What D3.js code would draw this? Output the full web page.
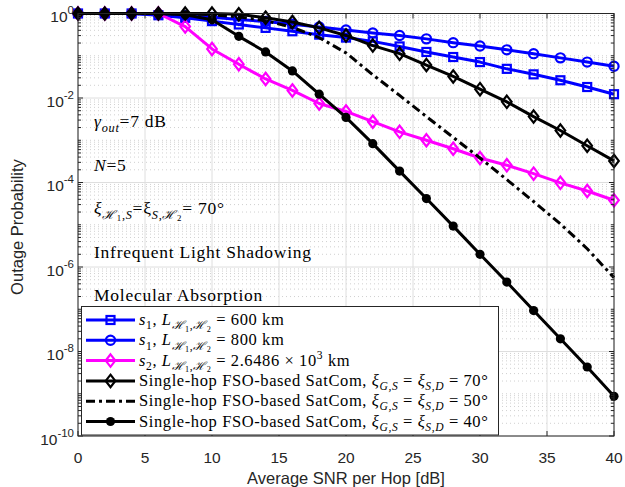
<!DOCTYPE html>
<html>
<head>
<meta charset="utf-8">
<script src="https://cdn.jsdelivr.net/npm/d3@7"></script>
<style>
  html, body { margin: 0; padding: 0; background: #fff; }
  svg { display: block; }
</style>
</head>
<body>
<svg id="chart" width="625" height="487"></svg>
<script>
// Average SNR per hop (dB) at which every curve is evaluated
const snrDb = [0, 2, 4, 6, 8, 10, 12, 14, 16, 18, 20, 22, 24, 26, 28, 30, 32, 34, 36, 38, 40];

// Outage probability for each scenario
const s1L600 = [1, 1, 1, 0.91, 0.79, 0.66, 0.55, 0.457, 0.38, 0.316, 0.269, 0.219, 0.166, 0.123, 0.0933, 0.0708, 0.049, 0.0363, 0.0263, 0.0182, 0.0123];
const s1L800 = [1, 1, 1, 0.955, 0.89, 0.81, 0.72, 0.645, 0.56, 0.479, 0.407, 0.347, 0.302, 0.251, 0.204, 0.17, 0.138, 0.112, 0.0891, 0.0708, 0.0562];
const s2L2648 = [1, 1, 1, 1, 0.49, 0.145, 0.0631, 0.0282, 0.0151, 0.0074, 0.0048, 0.00275, 0.00158, 0.001, 0.00063, 0.00038, 0.000257, 0.000162, 9.8e-5, 6.3e-5, 3.8e-5];
const single70 = [1, 1, 1, 1, 1, 1, 0.955, 0.794, 0.631, 0.457, 0.302, 0.174, 0.112, 0.0603, 0.0324, 0.0162, 0.0081, 0.00363, 0.0017, 0.00074, 0.000324];
const single50 = [1, 1, 1, 1, 0.977, 0.933, 0.832, 0.676, 0.468, 0.269, 0.117, 0.0355, 0.0115, 0.00363, 0.00117, 0.00038, 0.000117, 3.55e-5, 1.05e-5, 2.7e-6, 5.6e-7];
const single40 = [1, 1, 1, 1, 0.933, 0.708, 0.288, 0.123, 0.0437, 0.0123, 0.00347, 0.00083, 0.000186, 4.17e-5, 9.3e-6, 2.0e-6, 4.4e-7, 9.3e-8, 2.0e-8, 4.3e-9, 8.7e-10];

// Axis ticks
const xTicks = [0, 5, 10, 15, 20, 25, 30, 35, 40];
const yExponents = [0, -2, -4, -6, -8, -10];

// Rich-text pieces: [text, italic, position] with position "", "sub", "subsub" or "sup"
const annotations = [
  [["γ", true, ""], ["out", true, "sub"], ["=7 dB", false, ""]],
  [["N", true, ""], ["=5", false, ""]],
  [["ξ", true, ""], ["ℋ", true, "sub"], ["1", false, "subsub"], [",", false, "sub"], ["S", true, "sub"],
   ["=ξ", false, ""], ["S", true, "sub"], [",", false, "sub"], ["ℋ", true, "sub"], ["2", false, "subsub"], ["= 70°", false, ""]],
  [["Infrequent Light Shadowing", false, ""]],
  [["Molecular Absorption", false, ""]]
];

const Lsub = [["L", true, ""], ["ℋ", true, "sub"], ["1", false, "subsub"], [",", false, "sub"], ["ℋ", true, "sub"], ["2", false, "subsub"]];
const singleHop = (deg) => [["Single-hop FSO-based SatCom, ", false, ""], ["ξ", true, ""], ["G,S", true, "sub"],
  [" = ", false, ""], ["ξ", true, ""], ["S,D", true, "sub"], [" = " + deg + "°", false, ""]];

const series = [
  { values: s1L600, color: "#0000ff", marker: "square", dash: null,
    label: [["s", true, ""], ["1", false, "sub"], [", ", false, ""], ...Lsub, [" = 600 km", false, ""]] },
  { values: s1L800, color: "#0000ff", marker: "circle", dash: null,
    label: [["s", true, ""], ["1", false, "sub"], [", ", false, ""], ...Lsub, [" = 800 km", false, ""]] },
  { values: s2L2648, color: "#ff00ff", marker: "diamond", dash: null,
    label: [["s", true, ""], ["2", false, "sub"], [", ", false, ""], ...Lsub, [" = 2.6486 × 10", false, ""], ["3", false, "sup"], [" km", false, ""]] },
  { values: single70, color: "#000000", marker: "diamond", dash: null, label: singleHop(70) },
  { values: single50, color: "#000000", marker: null, dash: "9,4,3,4", label: singleHop(50) },
  { values: single40, color: "#000000", marker: "dot", dash: null, label: singleHop(40) }
];

const serif = "'Liberation Serif', 'DejaVu Serif', serif";
const sans = "'Liberation Sans', Arial, Helvetica, sans-serif";

const svg = d3.select("#chart");
const plot = { left: 78, right: 614, top: 13.5, bottom: 436 };
const x = d3.scaleLinear().domain([0, 40]).range([plot.left, plot.right]);
const y = d3.scaleLog().domain([1e-10, 1]).range([plot.bottom, plot.top]);
const axisColor = "#262626";

// Grid: solid major lines, dotted minor lines on the log axis
const grid = svg.append("g");
const minorVals = [];
for (let e = -10; e < 0; e++) {
  for (let k = 1; k <= 9; k++) {
    if (k === 1 && e % 2 === 0) continue;
    minorVals.push(k * Math.pow(10, e));
  }
}
grid.selectAll(".ymin").data(minorVals).join("line")
  .attr("x1", plot.left).attr("x2", plot.right)
  .attr("y1", d => y(d)).attr("y2", d => y(d))
  .attr("stroke", "#c4c4c4").attr("stroke-width", 0.8).attr("stroke-dasharray", "1,3");
grid.selectAll(".ymaj").data(yExponents).join("line")
  .attr("x1", plot.left).attr("x2", plot.right)
  .attr("y1", d => y(Math.pow(10, d))).attr("y2", d => y(Math.pow(10, d)))
  .attr("stroke", "#dedede").attr("stroke-width", 1);
grid.selectAll(".xmaj").data(xTicks).join("line")
  .attr("x1", d => x(d)).attr("x2", d => x(d))
  .attr("y1", plot.top).attr("y2", plot.bottom)
  .attr("stroke", "#dedede").attr("stroke-width", 1);

// Curves
const line = d3.line().x((d, i) => x(snrDb[i])).y(d => y(d));
const curves = svg.append("g");

function drawMarker(g, type, color, cx, cy) {
  if (type === "square") {
    g.append("rect").attr("x", cx - 4).attr("y", cy - 4).attr("width", 8).attr("height", 8)
      .attr("fill", "none").attr("stroke", color).attr("stroke-width", 2.2);
  } else if (type === "circle") {
    g.append("circle").attr("cx", cx).attr("cy", cy).attr("r", 4.6)
      .attr("fill", "none").attr("stroke", color).attr("stroke-width", 2.2);
  } else if (type === "diamond") {
    g.append("path").attr("d", `M${cx},${cy - 6.2}L${cx + 4.8},${cy}L${cx},${cy + 6.2}L${cx - 4.8},${cy}Z`)
      .attr("fill", "none").attr("stroke", color).attr("stroke-width", 2.2);
  } else if (type === "dot") {
    g.append("circle").attr("cx", cx).attr("cy", cy).attr("r", 4.6).attr("fill", color);
  }
}

series.forEach(s => {
  const g = curves.append("g");
  g.append("path").datum(s.values).attr("d", line)
    .attr("fill", "none").attr("stroke", s.color).attr("stroke-width", 3)
    .attr("stroke-linejoin", "round")
    .attr("stroke-dasharray", s.dash);
  if (s.marker) {
    s.values.forEach((v, i) => drawMarker(g, s.marker, s.color, x(snrDb[i]), y(v)));
  }
});

// Axes box and ticks (inside, on all four sides)
const axes = svg.append("g").attr("stroke", axisColor).attr("stroke-width", 1);
axes.append("rect").attr("x", plot.left).attr("y", plot.top)
  .attr("width", plot.right - plot.left).attr("height", plot.bottom - plot.top)
  .attr("fill", "none");
xTicks.forEach(t => {
  axes.append("line").attr("x1", x(t)).attr("x2", x(t)).attr("y1", plot.bottom).attr("y2", plot.bottom - 5);
  axes.append("line").attr("x1", x(t)).attr("x2", x(t)).attr("y1", plot.top).attr("y2", plot.top + 5);
});
yExponents.forEach(e => {
  const yy = y(Math.pow(10, e));
  axes.append("line").attr("x1", plot.left).attr("x2", plot.left + 5).attr("y1", yy).attr("y2", yy);
  axes.append("line").attr("x1", plot.right).attr("x2", plot.right - 5).attr("y1", yy).attr("y2", yy);
});
minorVals.forEach(v => {
  const yy = y(v);
  axes.append("line").attr("x1", plot.left).attr("x2", plot.left + 3).attr("y1", yy).attr("y2", yy);
  axes.append("line").attr("x1", plot.right).attr("x2", plot.right - 3).attr("y1", yy).attr("y2", yy);
});

// Tick labels
svg.append("g").selectAll("text").data(xTicks).join("text")
  .attr("font-family", sans).attr("x", d => x(d)).attr("y", 463)
  .attr("text-anchor", "middle").attr("font-size", 15.5).attr("fill", axisColor)
  .text(d => d);
const yl = svg.append("g").selectAll("text").data(yExponents).join("text")
  .attr("font-family", sans).attr("x", 74).attr("y", d => y(Math.pow(10, d)) + 8.5)
  .attr("text-anchor", "end").attr("font-size", 15.5).attr("fill", axisColor);
yl.append("tspan").text("10");
yl.append("tspan").attr("dy", -8).attr("font-size", 11.5).text(d => d);

// Axis titles
svg.append("text").attr("font-family", sans).attr("x", 346).attr("y", 483.5)
  .attr("text-anchor", "middle").attr("font-size", 16.5).attr("fill", axisColor)
  .text("Average SNR per Hop [dB]");
svg.append("text").attr("font-family", sans)
  .attr("transform", "translate(23,227) rotate(-90)")
  .attr("text-anchor", "middle").attr("font-size", 16.5).attr("fill", axisColor)
  .text("Outage Probability");

// Rich text writer: italic pieces, sub/superscripts via baseline shifts
function richText(sel, parts, size) {
  const offs = { "": 0, sub: size * 0.26, subsub: size * 0.4, sup: -size * 0.4 };
  const sizes = { "": size, sub: size * 0.7, subsub: size * 0.5, sup: size * 0.7 };
  let cur = 0;
  parts.forEach(([t, it, pos]) => {
    const target = offs[pos];
    sel.append("tspan")
      .attr("font-family", serif)
      .attr("dx", pos === "subsub" ? 0.8 : 0)
      .attr("dy", target - cur)
      .attr("font-size", sizes[pos])
      .attr("font-style", it ? "italic" : "normal")
      .text(t);
    cur = target;
  });
}

// Parameter annotations
const annY = [127, 170.5, 214, 258, 301];
annotations.forEach((parts, i) => {
  const t = svg.append("text").attr("font-family", serif)
    .attr("x", 94).attr("y", annY[i]).attr("fill", "#000")
    .attr("letter-spacing", 0.75).style("white-space", "pre");
  richText(t, parts, 17.5);
});

// Legend
const legend = svg.append("g");
legend.append("rect").attr("x", 81.5).attr("y", 306.5).attr("width", 417).attr("height", 128.5)
  .attr("fill", "#fff").attr("stroke", axisColor).attr("stroke-width", 1);
const rowY = [320, 340.3, 360.6, 380.9, 401.2, 421.5];
series.forEach((s, i) => {
  const g = legend.append("g");
  g.append("line").attr("x1", 86).attr("x2", 135).attr("y1", rowY[i]).attr("y2", rowY[i])
    .attr("stroke", s.color).attr("stroke-width", 3).attr("stroke-dasharray", s.dash);
  if (s.marker) drawMarker(g, s.marker, s.color, 110.5, rowY[i]);
  const t = g.append("text").attr("font-family", serif).attr("x", 139).attr("y", rowY[i] + 5)
    .attr("fill", "#000").attr("letter-spacing", 0.6).style("white-space", "pre");
  richText(t, s.label, 16.5);
});
</script>
</body>
</html>
